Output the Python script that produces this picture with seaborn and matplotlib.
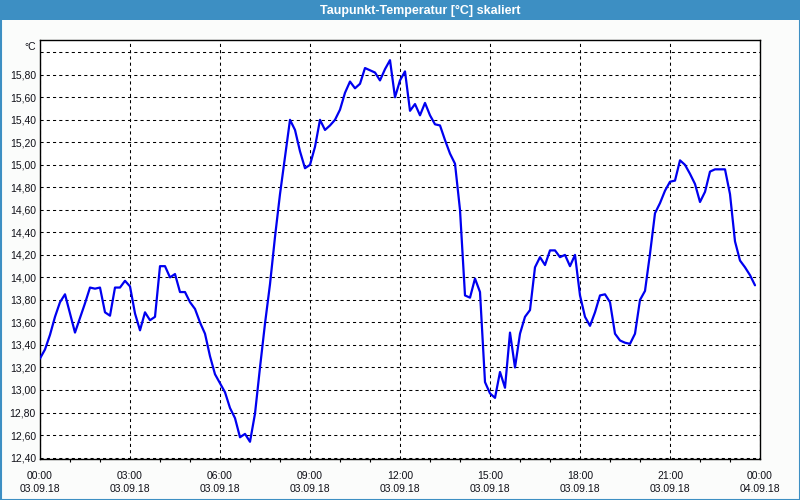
import matplotlib
matplotlib.use("Agg")
import matplotlib.pyplot as plt
import matplotlib.dates as mdates
from matplotlib.ticker import FuncFormatter, MultipleLocator
from matplotlib.patches import Rectangle
import numpy as np
import pandas as pd
import seaborn as sns

title = "Taupunkt-Temperatur [°C] skaliert"
unit_label = "°C"
start_time = "2018-09-03 00:00"
end_time = "2018-09-04 00:00"
step = "10min"

dew_point = [
    13.28, 13.36, 13.49, 13.65, 13.78, 13.85, 13.68, 13.51, 13.64, 13.77,
    13.91, 13.90, 13.91, 13.69, 13.66, 13.91, 13.91, 13.97, 13.92, 13.68,
    13.53, 13.69, 13.62, 13.65, 14.10, 14.10, 14.00, 14.03, 13.87, 13.87,
    13.78, 13.72, 13.60, 13.50, 13.30, 13.14, 13.06, 12.98, 12.84, 12.75,
    12.58, 12.61, 12.54, 12.79, 13.20, 13.59, 13.94, 14.36, 14.74, 15.07,
    15.40, 15.31, 15.12, 14.97, 15.00, 15.16, 15.40, 15.31, 15.35, 15.40,
    15.49, 15.64, 15.74, 15.68, 15.72, 15.86, 15.84, 15.82, 15.75, 15.85,
    15.93, 15.60, 15.75, 15.83, 15.48, 15.54, 15.44, 15.55, 15.44, 15.36,
    15.35, 15.22, 15.10, 15.01, 14.60, 13.84, 13.82, 13.99, 13.87, 13.07,
    12.97, 12.93, 13.16, 13.02, 13.51, 13.20, 13.50, 13.65, 13.71, 14.09,
    14.18, 14.11, 14.24, 14.24, 14.18, 14.20, 14.10, 14.20, 13.84, 13.65,
    13.57, 13.69, 13.84, 13.85, 13.78, 13.50, 13.44, 13.42, 13.41, 13.50,
    13.80, 13.88, 14.21, 14.57, 14.66, 14.77, 14.85, 14.86, 15.04, 15.00,
    14.92, 14.83, 14.67, 14.76, 14.94, 14.96, 14.96, 14.96, 14.74, 14.32,
    14.15, 14.09, 14.02, 13.93,
]

times = pd.date_range(start=start_time, periods=len(dew_point), freq=step)
df = pd.DataFrame({"time": times, "value": dew_point})

sns.set_theme(style="white")
plt.rcParams["font.family"] = ["Liberation Sans", "DejaVu Sans"]

bg = "#fbfcfb"
frame_blue = "#3d8fc3"

fig = plt.figure(figsize=(8, 5), dpi=100, facecolor=bg)
ax = fig.add_axes([40 / 800, 1 - 459 / 500, 720 / 800, 419 / 500])
ax.set_facecolor("white")

sns.lineplot(data=df, x="time", y="value", ax=ax, color="#0000f0",
             linewidth=1.6, zorder=3)

ax.set_xlim(pd.Timestamp(start_time), pd.Timestamp(end_time))
ax.set_ylim(12.387, 16.109)

ax.xaxis.set_major_locator(mdates.HourLocator(byhour=range(0, 24, 3)))
ax.xaxis.set_minor_locator(mdates.HourLocator())
ax.xaxis.set_major_formatter(mdates.DateFormatter("%H:%M\n%d.%m.%y"))
ax.yaxis.set_major_locator(MultipleLocator(0.2))


def yfmt(v, pos):
    if abs(v - 16.0) < 1e-6:
        return ""
    return f"{v:.2f}".replace(".", ",")


ax.yaxis.set_major_formatter(FuncFormatter(yfmt))

ax.grid(True, which="major", color="black", linestyle=(0, (3, 3)),
        linewidth=0.75)
for s in ax.spines.values():
    s.set_color("black")
    s.set_linewidth(1.0)
    s.set_visible(True)

ax.tick_params(axis="x", which="major", direction="out", length=3.5,
               width=0.8, color="black", pad=5, labelsize=7.5,
               labelcolor="#101018")
ax.tick_params(axis="x", which="minor", direction="out", length=2.5,
               width=0.8, color="black", bottom=True)
ax.tick_params(axis="y", which="major", length=0, pad=3, labelsize=7.5,
               labelcolor="#101018")
for lab in ax.get_xticklabels():
    lab.set_linespacing(1.35)
ax.set_xlabel("")
ax.set_ylabel("")

ax.text(-0.005, 16.0, unit_label, transform=ax.get_yaxis_transform(),
        ha="right", va="bottom", fontsize=7.5, color="#101018")

# title bar and frame
fig.patches.append(Rectangle((0, 1 - 20 / 500), 1, 20 / 500,
                             transform=fig.transFigure, facecolor=frame_blue,
                             edgecolor="none", zorder=0))
fig.patches.append(Rectangle((0.5 / 800, 0.5 / 500), 799 / 800, 499 / 500,
                             transform=fig.transFigure, facecolor="none",
                             edgecolor=frame_blue, linewidth=1.5, zorder=1))
fig.text(420 / 800, 1 - 10.5 / 500, title, ha="center", va="center",
         color="white", fontsize=9, fontweight="bold",
         family=["Liberation Sans Narrow", "Liberation Sans", "DejaVu Sans"])

fig.savefig("out.png", dpi=100, facecolor=bg)
